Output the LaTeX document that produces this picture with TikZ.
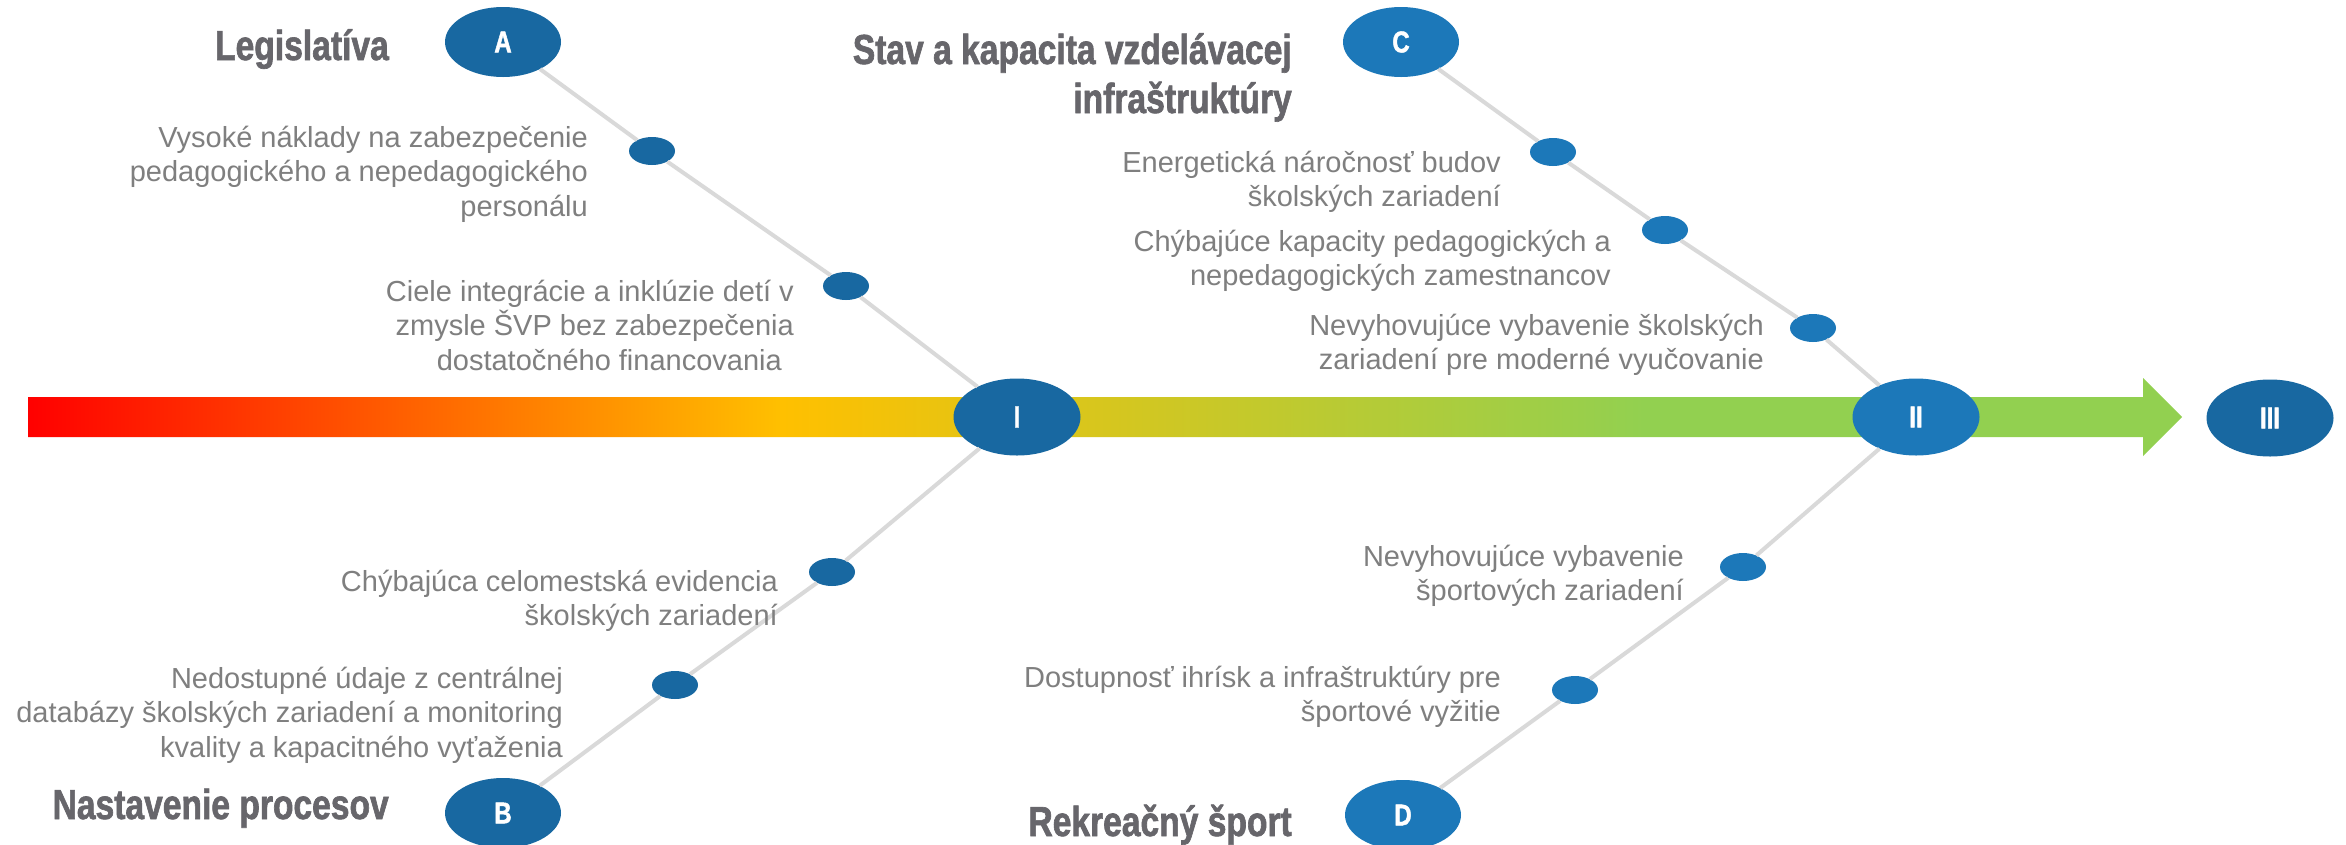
\documentclass[tikz,border=0pt]{standalone}
\usepackage{fontspec}
\setmainfont{Liberation Sans}
\newfontfamily\headfont[FakeStretch=0.80,FakeBold=1.5]{Liberation Sans Bold}
\usetikzlibrary{shapes.geometric}
\definecolor{darkblue}{RGB}{24,104,161}
\definecolor{lightblue}{RGB}{28,120,185}
\definecolor{linegray}{RGB}{217,217,217}
\definecolor{bodygray}{RGB}{127,127,127}
\definecolor{headgray}{RGB}{103,102,107}
\pgfdeclarehorizontalshading{arrowgrad}{100bp}{rgb(0bp)=(1,0,0); rgb(25bp)=(1,0,0); rgb(42.5bp)=(1,0.753,0); rgb(62.5bp)=(0.573,0.816,0.314); rgb(75bp)=(0.573,0.816,0.314); rgb(100bp)=(0.573,0.816,0.314)}
\tikzset{
  bignode/.style={ellipse, minimum width=127pt, minimum height=77pt, inner sep=0pt, text=white, font=\headfont\fontsize{30}{30}\selectfont},
  smallnode/.style={ellipse, minimum width=116pt, minimum height=70pt, inner sep=0pt, text=white, font=\headfont\fontsize{30}{30}\selectfont},
  dotnode/.style={ellipse, minimum width=46pt, minimum height=28pt, inner sep=0pt},
  branch/.style={draw=linegray, line width=4pt},
  body/.style={text=bodygray, font=\fontsize{29}{34.5}\selectfont, align=right, inner sep=0pt, anchor=base east},
  head/.style={text=headgray, font=\headfont\fontsize{42}{49}\selectfont, align=right, inner sep=0pt, anchor=base east},
}
\begin{document}
\begin{tikzpicture}[x=1pt,y=-1pt]
\fill[white] (0,0) rectangle (2346,844);
\useasboundingbox (0,0) rectangle (2346,844);
% main arrow
\shade[shading=arrowgrad] (28,397) -- (2143,397) -- (2143,378) -- (2182,417) -- (2143,456) -- (2143,437) -- (28,437) -- cycle;
% main nodes
\node[bignode, fill=darkblue] (I) at (1017,417) {I};
\node[bignode, fill=lightblue] (II) at (1916,417) {II};
\node[bignode, fill=darkblue] (III) at (2270,418) {III};
\node[smallnode, fill=darkblue] (A) at (503,42) {A};
\node[smallnode, fill=lightblue] (C) at (1401,42) {C};
\node[smallnode, fill=darkblue] (B) at (503,813) {B};
\node[smallnode, fill=lightblue] (D) at (1403,815) {D};
% dots
\node[dotnode, fill=darkblue] (a1) at (652,151) {};
\node[dotnode, fill=darkblue] (a2) at (846,286) {};
\node[dotnode, fill=lightblue] (c1) at (1553,152) {};
\node[dotnode, fill=lightblue] (c2) at (1665,230) {};
\node[dotnode, fill=lightblue] (c3) at (1813,328) {};
\node[dotnode, fill=darkblue] (b1) at (832,572) {};
\node[dotnode, fill=darkblue] (b2) at (675,685) {};
\node[dotnode, fill=lightblue] (d1) at (1743,567) {};
\node[dotnode, fill=lightblue] (d2) at (1575,690) {};
% branches
\draw[branch] (A) -- (a1) -- (a2) -- (I);
\draw[branch] (C) -- (c1) -- (c2) -- (c3) -- (II);
\draw[branch] (I) -- (b1) -- (b2) -- (B);
\draw[branch] (II) -- (d1) -- (d2) -- (D);
% headings
\node[head] (hA) at (389,60) {Legislatíva};
\node[head] (hC) at (1292,113) {Stav a kapacita vzdelávacej\\infraštruktúry};
\node[head] (hB) at (389,819) {Nastavenie procesov};
\node[head] (hD) at (1292,836) {Rekreačný šport};
% texts
\node[body] (ta1) at (588,216) {Vysoké náklady na zabezpečenie\\pedagogického a nepedagogického\\personálu};
\node[body] (ta2) at (794,370) {Ciele integrácie a inklúzie detí v\\zmysle ŠVP bez zabezpečenia\hspace*{2pt}\\dostatočného financovania\hspace*{12pt}};
\node[body] (tc1) at (1501,206.5) {Energetická náročnosť budov\\školských zariadení};
\node[body] (tc2) at (1611,285.5) {Chýbajúce kapacity pedagogických a\\nepedagogických zamestnancov};
\node[body] (tc3) at (1764,369.5) {Nevyhovujúce vybavenie školských\\zariadení pre moderné vyučovanie};
\node[body] (tb1) at (778,625.5) {Chýbajúca celomestská evidencia\\školských zariadení};
\node[body] (tb2) at (563,757) {Nedostupné údaje z centrálnej\\databázy školských zariadení a monitoring\\kvality a kapacitného vyťaženia};
\node[body] (td1) at (1684,600.5) {Nevyhovujúce vybavenie\\športových zariadení};
\node[body] (td2) at (1501,721.5) {Dostupnosť ihrísk a infraštruktúry pre\\športové vyžitie};
\end{tikzpicture}
\end{document}
